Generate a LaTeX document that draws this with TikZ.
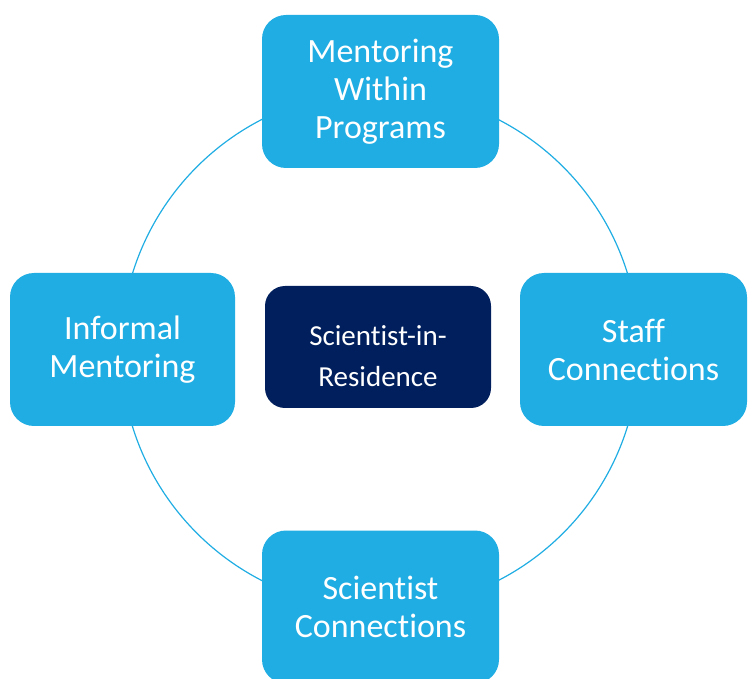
\documentclass[tikz,border=0pt]{standalone}
\usepackage{fontspec}
\setmainfont{Carlito}[Ligatures=NoCommon]
\definecolor{lblue}{HTML}{1FADE3}
\definecolor{navy}{HTML}{001F5C}
\begin{document}
\begin{tikzpicture}[x=1pt,y=-1pt,
  outerbox/.style={rectangle, rounded corners=24pt, fill=lblue, text=white, inner sep=0pt,
    minimum height=153pt, align=center, font=\fontsize{34}{38}\selectfont},
  centerbox/.style={rectangle, rounded corners=20pt, fill=navy, inner sep=0pt,
    minimum width=226pt, minimum height=122pt},
  centertext/.style={text=white, inner sep=0pt, align=center, font=\fontsize{29}{41}\selectfont}]
\useasboundingbox (0,0) rectangle (748,679);
\clip (0,0) rectangle (748,679);
\node[circle, draw=lblue, line width=1.2pt, minimum size=518pt, inner sep=0pt] (ring) at (380,350) {};
\node[outerbox, minimum width=237pt] (top) at (380.5,91.5) {Mentoring\\Within\\Programs};
\node[outerbox, minimum width=225pt] (left) at (122.5,349.5) {Informal\\Mentoring};
\node[outerbox, minimum width=227pt] (right) at (633.5,349.5) {Staff\\Connections};
\node[outerbox, minimum width=237pt] (bottom) at (380.5,607) {Scientist\\Connections};
\node[centerbox] (center) at (378,347) {};
\node[centertext] (centerlabel) at ([yshift=-9pt]center.center) {Scientist-in-\\Residence};
\end{tikzpicture}
\end{document}
